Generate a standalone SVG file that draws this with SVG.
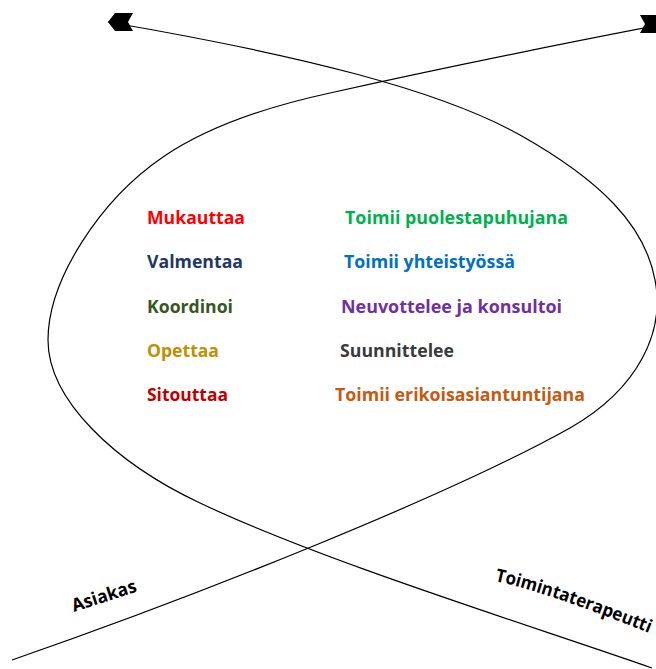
<svg xmlns="http://www.w3.org/2000/svg" width="656" height="669" viewBox="0 0 656 669">
  <style>
    .curve { fill: none; stroke: #000; stroke-width: 1.2; }
    .lbl { font-family: "Open Sans", "Liberation Sans", sans-serif; font-weight: 700; font-size: 18.5px; }
    .axis { font-family: "Open Sans", "Liberation Sans", sans-serif; font-weight: 700; font-size: 18px; fill: #000; }
  </style>
  <defs>
    <marker id="headLeft" markerUnits="userSpaceOnUse" markerWidth="30" markerHeight="24" viewBox="-2 -12 30 24" refX="0" refY="0" orient="0">
      <path d="M0,0 L7,-9 L25,-9 L20,0 L25,9 L7,9 Z" fill="#000"/>
    </marker>
    <marker id="headRight" markerUnits="userSpaceOnUse" markerWidth="30" markerHeight="24" viewBox="-28 -12 30 24" refX="0" refY="0" orient="0">
      <path d="M0,0 L-7,-9 L-25,-9 L-20,0 L-25,9 L-7,9 Z" fill="#000"/>
    </marker>
    <path id="therapistPath" d="M 495,581 Q 560,595 690,650"/>
  </defs>

  <g id="connectors">
    <path id="asiakas-curve" class="curve" marker-start="url(#headLeft)"
          d="M 108,22 C 300,55 440,90 520,135 C 600,180 645,225 655,280 C 665,330 640,388 570,428 C 450,495 200,595 12,660"/>
    <path id="toimintaterapeutti-curve" class="curve" marker-end="url(#headRight)"
          d="M 652,668 C 520,622 320,560 200,503 C 115,463 48,400 48,340 C 48,280 100,200 163,157 C 210,125 270,106 330,93 C 420,73 540,48 665,24"/>
  </g>

  <g id="node-mukauttaa"><text class="lbl" x="147" y="224" fill="#FF0000" textLength="98" lengthAdjust="spacingAndGlyphs">Mukauttaa</text></g>
  <g id="node-valmentaa"><text class="lbl" x="147" y="268" fill="#1F3864" textLength="96" lengthAdjust="spacingAndGlyphs">Valmentaa</text></g>
  <g id="node-koordinoi"><text class="lbl" x="147" y="313" fill="#375623" textLength="86" lengthAdjust="spacingAndGlyphs">Koordinoi</text></g>
  <g id="node-opettaa"><text class="lbl" x="147" y="357" fill="#BF9000" textLength="72" lengthAdjust="spacingAndGlyphs">Opettaa</text></g>
  <g id="node-sitouttaa"><text class="lbl" x="147" y="401" fill="#C00000" textLength="81" lengthAdjust="spacingAndGlyphs">Sitouttaa</text></g>

  <g id="node-puolestapuhujana"><text class="lbl" x="345" y="224" fill="#00B050" textLength="223" lengthAdjust="spacingAndGlyphs">Toimii puolestapuhujana</text></g>
  <g id="node-yhteistyossa"><text class="lbl" x="344" y="268" fill="#0070C0" textLength="171" lengthAdjust="spacingAndGlyphs">Toimii yhteistyössä</text></g>
  <g id="node-neuvottelee"><text class="lbl" x="341" y="313" fill="#7030A0" textLength="221" lengthAdjust="spacingAndGlyphs">Neuvottelee ja konsultoi</text></g>
  <g id="node-suunnittelee"><text class="lbl" x="340" y="357" fill="#3A3A3A" textLength="114" lengthAdjust="spacingAndGlyphs">Suunnittelee</text></g>
  <g id="node-erikoisasiantuntijana"><text class="lbl" x="335" y="401" fill="#C55A11" textLength="250" lengthAdjust="spacingAndGlyphs">Toimii erikoisasiantuntijana</text></g>

  <g id="label-asiakas"><text class="axis" transform="translate(74,612) rotate(-18)" textLength="67" lengthAdjust="spacingAndGlyphs">Asiakas</text></g>
  <g id="label-toimintaterapeutti"><text class="axis"><textPath href="#therapistPath" textLength="163" lengthAdjust="spacingAndGlyphs">Toimintaterapeutti</textPath></text></g>
</svg>
